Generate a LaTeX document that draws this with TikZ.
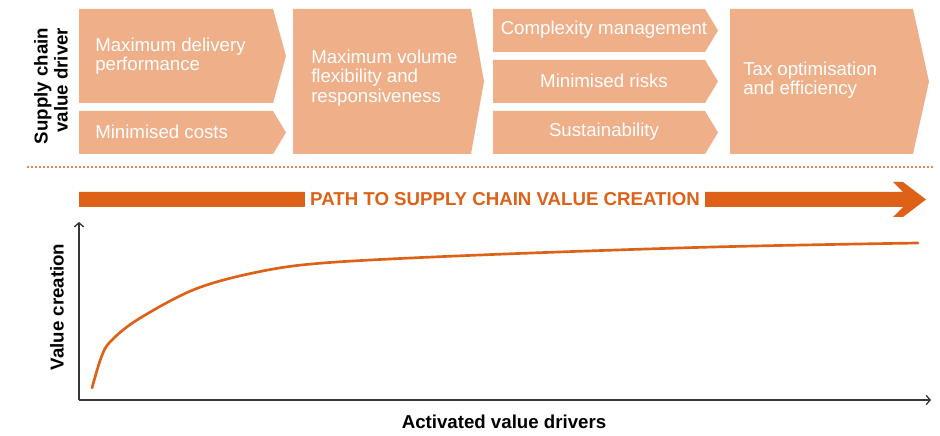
\documentclass[tikz,border=0pt]{standalone}
\usepackage{fontspec}
\setmainfont{Liberation Sans}
\usepackage{tikz}
\usetikzlibrary{arrows.meta,positioning,calc}
\definecolor{driverfill}{RGB}{239,175,137}
\definecolor{pathorange}{RGB}{221,97,23}
\definecolor{axisgray}{RGB}{55,55,55}

% pentagon shaped driver box: left, bottom, right, top, pointer depth
\newcommand{\drivershape}[5]{\fill[driverfill] (#1,#2) -- (#3,#2) -- (#3+#5,{(#2+#4)/2}) -- (#3,#4) -- (#1,#4) -- cycle;}

\begin{document}
\begin{tikzpicture}[
    x=0.75pt, y=0.75pt,
    drvtext/.style={text=white, font=\fontsize{14}{14.5}\selectfont, inner sep=0pt, align=left},
    drvcentre/.style={text=white, font=\fontsize{14}{14.5}\selectfont, inner sep=0pt, align=center},
    axislabel/.style={font=\fontsize{14}{15}\selectfont\bfseries, text=black},
    axis/.style={-{Straight Barb[length=3pt,width=7pt]}, axisgray, line width=1pt}
]
\useasboundingbox (0,0) rectangle (940,436);

% Supply chain value drivers
\drivershape{79}{333}{273}{427}{13}
\drivershape{79}{282}{273}{325}{13}
\drivershape{293}{282}{471}{427}{13}
\drivershape{493}{384}{705}{427}{13}
\drivershape{493}{333}{705}{376}{13}
\drivershape{493}{282}{705}{325}{13}
\drivershape{730}{282}{913}{427}{16}

\node[drvtext, anchor=west] (delivery) at (95,380) {Maximum delivery\\performance};
\node[drvtext, anchor=west] (costs) at (95,304) {Minimised costs};
\node[drvtext, anchor=west] (volume) at (311,358) {Maximum volume\\flexibility and\\responsiveness};
\node[drvcentre] (complexity) at (604,406) {Complexity management};
\node[drvcentre] (risks) at (604,355) {Minimised risks};
\node[drvcentre] (sustain) at (604,304) {Sustainability};
\node[drvtext, anchor=west] (tax) at (743,356) {Tax optimisation\\and efficiency};

\node[axislabel, rotate=90, align=right, font=\fontsize{14}{15}\selectfont\bfseries] (driverlbl) at (51,350) {Supply chain\\value driver};

% Divider
\coordinate (divl) at (28,269);
\coordinate (divr) at (932,269);
\draw[pathorange, line width=1.8pt, line cap=round, dash pattern=on 0pt off 3pt] (divl) -- (divr);

% Path arrow
\fill[pathorange] (79,229) -- (903,229) -- (893,219) -- (903,219) -- (926,236.5)
    -- (903,254) -- (893,254) -- (903,244) -- (79,244) -- cycle;
\node[fill=white, text=pathorange, font=\fontsize{14}{15}\selectfont\bfseries, inner xsep=4pt, inner ysep=2pt] (pathlbl) at (505,236.5) {PATH TO SUPPLY CHAIN VALUE CREATION};

% Value curve
\coordinate (origin) at (79,36);
\coordinate (ytop) at (79,214);
\coordinate (xend) at (931,36);
\draw[axis] (origin) -- (ytop);
\draw[axis] (origin) -- (xend);
\draw[pathorange, line width=2pt, line cap=round] plot[smooth, tension=0.55] coordinates {
    (92,48) (101,78) (110,94) (137,116) (193,146) (253,163) (323,173) (480,181) (713,189) (918,193)};

\node[axislabel, rotate=90] (ylabel) at (57,129) {Value creation};
\node[axislabel] (xlabel) at (504,14) {Activated value drivers};

\end{tikzpicture}
\end{document}
